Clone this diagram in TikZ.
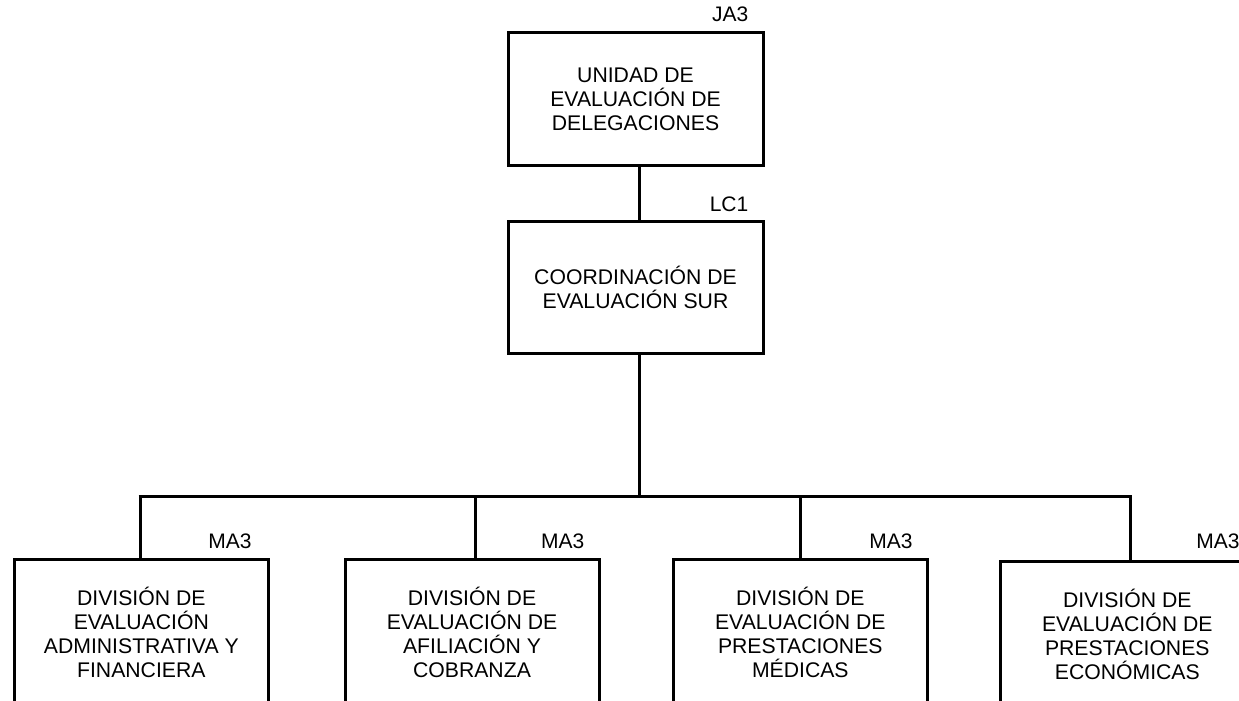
\documentclass[tikz,border=0pt]{standalone}
\usepackage{fontspec}
\setmainfont{Liberation Sans}
\begin{document}
\begin{tikzpicture}[x=1pt,y=-1pt,
  unitbox/.style={draw=black,line width=3pt,minimum width=255pt,minimum height=132pt,align=center,inner sep=0pt,
    font=\fontsize{21.2}{24}\selectfont},
  divbox/.style={unitbox,minimum width=254pt,minimum height=146pt},
  code/.style={anchor=base east,inner sep=0pt,font=\fontsize{21}{24}\selectfont},
  conn/.style={line width=3pt}]
\useasboundingbox (0,0) rectangle (1239,701);
\clip (0,0) rectangle (1239,701);
\node[unitbox] (top) at (635.5,99) {UNIDAD DE\\EVALUACIÓN DE\\DELEGACIONES};
\node[unitbox] (mid) at (635.5,287) {COORDINACIÓN DE\\EVALUACIÓN SUR};
\node[divbox] (b1) at (141.3,632) {DIVISIÓN DE\\EVALUACIÓN\\ADMINISTRATIVA Y\\FINANCIERA};
\node[divbox] (b2) at (472,632) {DIVISIÓN DE\\EVALUACIÓN DE\\AFILIACIÓN Y\\COBRANZA};
\node[divbox] (b3) at (800.3,632) {DIVISIÓN DE\\EVALUACIÓN DE\\PRESTACIONES\\MÉDICAS};
\node[divbox] (b4) at (1127.3,634) {DIVISIÓN DE\\EVALUACIÓN DE\\PRESTACIONES\\ECONÓMICAS};
\node[code] (l0) at ([shift={(-16pt,10pt)}]top.north east) {JA3};
\node[code] (l1) at ([shift={(-16pt,8pt)}]mid.north east) {LC1};
\node[code] (l2) at ([shift={(-18pt,9pt)}]b1.north east) {MA3};
\node[code] (l3) at ([shift={(-16pt,9pt)}]b2.north east) {MA3};
\node[code] (l4) at ([shift={(-16pt,9pt)}]b3.north east) {MA3};
\node[code] (l5) at ([shift={(-16pt,11pt)}]b4.north east) {MA3};
\coordinate (bus) at (639,496);
\coordinate (d1) at (140,496);
\coordinate (d2) at (475.3,496);
\coordinate (d3) at (800.7,496);
\coordinate (d4) at (1130.7,496);
\draw[conn] (bus |- top.south) -- (bus |- mid.north);
\draw[conn] (bus |- mid.south) -- (bus);
\draw[conn] ([xshift=-1.5pt]d1) -- ([xshift=1.5pt]d4);
\draw[conn] (d1) -- (d1 |- b1.north);
\draw[conn] (d2) -- (d2 |- b2.north);
\draw[conn] (d3) -- (d3 |- b3.north);
\draw[conn] (d4) -- (d4 |- b4.north);
\end{tikzpicture}
\end{document}
